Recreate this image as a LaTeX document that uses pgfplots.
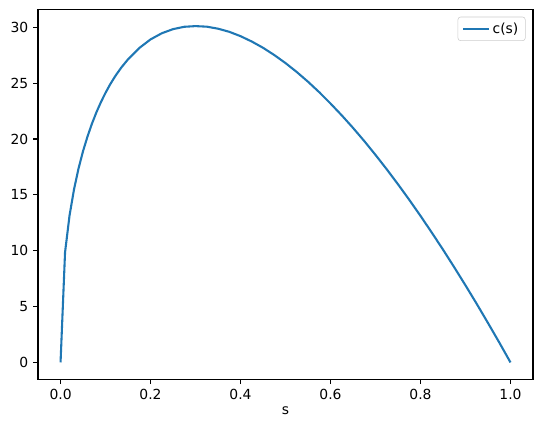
\documentclass[border=0pt]{standalone}
\usepackage{fontspec}
\setmainfont{DejaVu Sans}
\usepackage{pgfplots}
\pgfplotsset{compat=1.18}
\definecolor{c0}{HTML}{1F77B4}
\begin{document}
\begin{tikzpicture}
\begin{axis}[
  name=ax,
  scale only axis,
  width=356.4pt, height=266.4pt,
  xmin=-0.05, xmax=1.05,
  ymin=-1.505, ymax=31.615,
  xtick={0,0.2,0.4,0.6,0.8,1.0},
  ytick={0,5,10,15,20,25,30},
  xticklabel style={/pgf/number format/.cd, fixed, fixed zerofill, precision=1},
  /pgf/number format/assume math mode=true,
  tick align=outside,
  tick pos=left,
  major tick length=3.5pt,
  every tick/.style={black, line width=0.8pt},
  axis line style={line width=0.8pt},
  font=\fontsize{10}{12}\selectfont,
  xlabel={s},
  xlabel style={yshift=2pt},
  legend style={at={(0.985,0.98)}, anchor=north east, draw=black!20, rounded corners=2pt, font=\fontsize{10}{12}\selectfont, inner xsep=3pt, inner ysep=2pt, row sep=0pt},
  legend cell align=left,
  legend image code/.code={\draw[#1, line width=1.5pt] (0cm,0cm) -- (0.65cm,0cm);},
]
\addplot[c0, line width=1.5pt, line join=round] coordinates {
(0,0) (0.01,9.86) (0.02,13.16) (0.03,15.51) (0.04,17.37) (0.05,18.92)
(0.06,20.24) (0.07,21.40) (0.08,22.42) (0.09,23.33) (0.10,24.14)
(0.11,24.88) (0.12,25.53) (0.125,25.83) (0.135,26.40) (0.15,27.14)
(0.175,28.15) (0.20,28.92) (0.225,29.47) (0.25,29.84) (0.275,30.05)
(0.30,30.11) (0.325,30.06) (0.35,29.88) (0.375,29.60) (0.40,29.21)
(0.425,28.73) (0.45,28.17) (0.475,27.52) (0.50,26.80) (0.525,26.00)
(0.55,25.13) (0.575,24.19) (0.60,23.18) (0.625,22.12) (0.65,21.00)
(0.675,19.82) (0.70,18.58) (0.725,17.29) (0.75,15.95) (0.775,14.56)
(0.80,13.12) (0.825,11.63) (0.85,10.10) (0.875,8.52) (0.90,6.90)
(0.925,5.24) (0.95,3.53) (0.975,1.79) (1.0,0)
};
\addlegendentry{c(s)}
\end{axis}
\pgfresetboundingbox
\path[use as bounding box] ([shift={(-27.4pt,-38.2pt)}]ax.south west) rectangle ([shift={(7.2pt,6.7pt)}]ax.north east);
\end{tikzpicture}
\end{document}
